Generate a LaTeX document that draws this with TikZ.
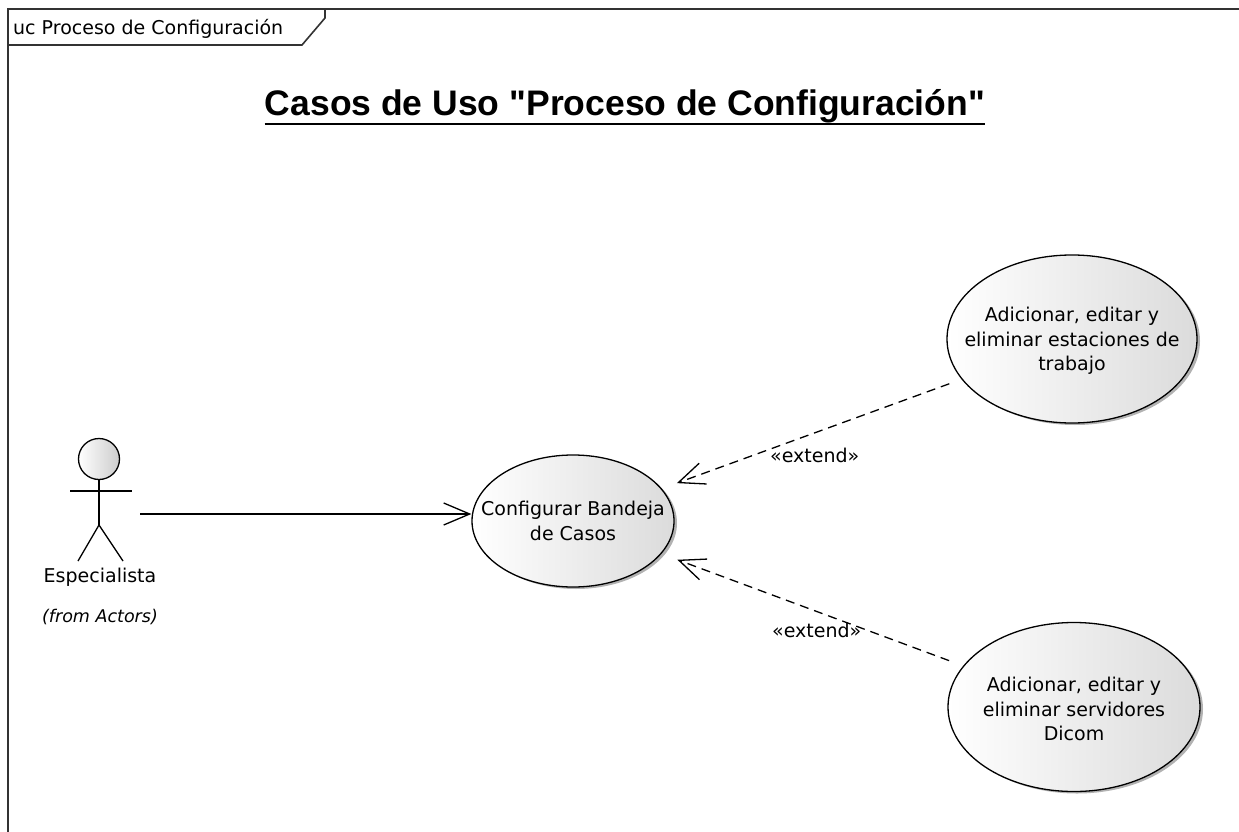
\documentclass[tikz,border=0pt]{standalone}
\usepackage{fontspec}
\setmainfont{DejaVu Sans}
\newfontfamily\titlefont{Liberation Sans}
\usetikzlibrary{arrows.meta,shapes.geometric,shadows}

\begin{document}
\begin{tikzpicture}[x=1pt,y=-1pt,
  txt/.style={font=\fontsize{19}{24}\selectfont, inner sep=0pt},
  frameline/.style={line width=1.6pt, draw=black!80},
  usecase/.style={ellipse, draw, line width=1.3pt, inner sep=0pt,
    left color=white, right color=black!14,
    drop shadow={shadow xshift=3pt, shadow yshift=-2pt, fill=black!30, opacity=1}},
  uctext/.style={align=center, inner sep=0pt, font=\fontsize{19}{24.5}\selectfont},
  assoc/.style={line width=1.3pt,
    -{Straight Barb[length=26pt,width=22pt,line width=1.3pt]}},
  extend/.style={assoc, dash pattern=on 9pt off 6pt},
  limb/.style={line width=1.3pt},
]
\useasboundingbox (0,0) rectangle (1239,832);

% diagram frame and its name tab
\draw[frameline] (8,832) -- (8,9) -- (1239,9);
\draw[frameline] (8,45) -- (302,45) -- (325,18) -- (325,9);
\node[txt, anchor=base west] (frametitle) at (13,35) {uc Proceso de Configuración};

% heading
\node[inner sep=0pt, anchor=base, font=\titlefont\bfseries\fontsize{35.5}{40}\selectfont]
  (heading) at (625,116) {Casos de Uso "Proceso de Configuración"};
\draw[line width=2.6pt] ([yshift=-8pt]heading.base west) -- ([yshift=-8pt]heading.base east);

% actor
\node[circle, draw, line width=1.3pt, minimum size=41pt, inner sep=0pt,
      left color=white, right color=black!20] (head) at (99,459) {};
\coordinate (hip) at (99,525);
\draw[limb] (head.south) -- (hip);
\draw[limb] (70,491) -- (132,491);
\draw[limb] (78,561) -- (hip) -- (123,561);
\node[txt, anchor=base] (actorname) at (100,582) {Especialista};
\node[txt, anchor=base, font=\fontsize{17.5}{22}\selectfont\itshape] (actorpkg) at (100,622) {(from Actors)};
\coordinate (actr) at (140,514);

% use cases: fixed-size ellipses with their names set on top
\node[usecase, minimum width=202pt, minimum height=132pt] (uc) at (573,521) {};
\node[uctext] (uctxt) at (uc.center) {Configurar Bandeja\\de Casos};
\node[usecase, minimum width=250pt, minimum height=168pt] (uc1) at (1072,339) {};
\node[uctext] (uc1txt) at ([yshift=-2pt]uc1.center) {Adicionar, editar y\\eliminar estaciones de\\trabajo};
\node[usecase, minimum width=252pt, minimum height=169pt] (uc2) at (1074,707) {};
\node[uctext] (uc2txt) at ([yshift=-2pt]uc2.center) {Adicionar, editar y\\eliminar servidores\\Dicom};

% relationships
\draw[assoc] (actr) -- (actr -| uc.west);
\draw[extend, shorten <=13pt, shorten >=16pt] (uc1) -- (uc);
\draw[extend, shorten <=15pt, shorten >=17pt] (uc2) -- (uc);
\node[txt, anchor=base west] (ext1) at (770,462) {«extend»};
\node[txt, anchor=base west] (ext2) at (772,637) {«extend»};
\end{tikzpicture}
\end{document}
